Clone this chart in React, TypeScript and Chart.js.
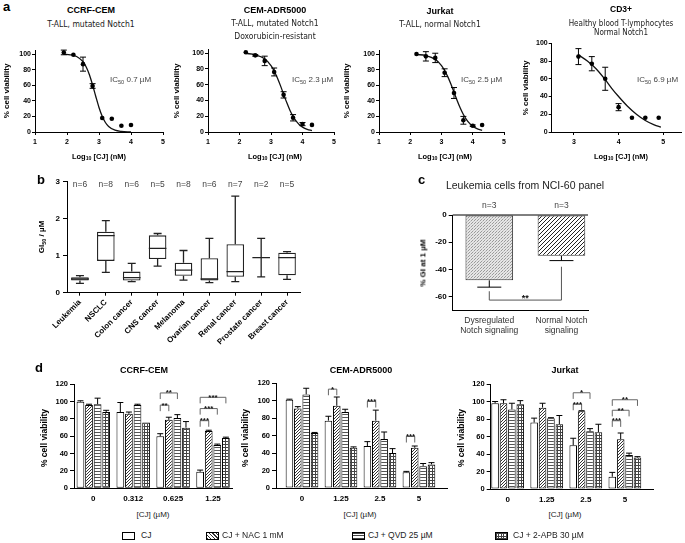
import React, { useEffect, useRef } from "react";
import { Chart, registerables } from "chart.js";

Chart.register(...registerables);

const FONT = "'Liberation Sans', Arial, Helvetica, sans-serif";
const NARROW = "'Liberation Sans Narrow', 'Arial Narrow', 'DejaVu Sans Condensed', 'Liberation Sans', Arial, sans-serif";
Chart.defaults.font.family = FONT;

// ---------------- Panel a: dose-response curves ----------------
const viabilityTicks = [0, 20, 40, 60, 80, 100];
const logTicks = [1, 2, 3, 4, 5];
const cd3LogTicks = [3, 4, 5];

const ccrfLog = [1.9, 2.2, 2.5, 2.8, 3.1, 3.4, 3.7, 4.0];
const ccrfViab = [102, 99, 87, 59, 18, 17, 8, 9];
const ccrfSem = [3, 0, 9, 3, 0, 0, 0, 0];
const ccrfFitLog = [1.9, 2.1, 2.3, 2.5, 2.6, 2.7, 2.8, 2.9, 3.0, 3.1, 3.2, 3.3, 3.5, 3.7, 4.0];
const ccrfFitViab = [99.7, 99, 96.8, 90.2, 83.4, 73.5, 60.3, 45.5, 31.5, 20.2, 12.2, 7.1, 2.3, 0.7, 0.1];

const adrLog = [2.2, 2.5, 2.8, 3.1, 3.4, 3.7, 4.0, 4.3];
const adrViab = [101, 97, 90, 76, 47, 18, 10, 9];
const adrSem = [0, 1, 6, 5, 4, 4, 2, 0];
const adrFitLog = [2.2, 2.5, 2.8, 3.0, 3.1, 3.2, 3.3, 3.4, 3.5, 3.6, 3.7, 3.8, 3.9, 4.0, 4.15, 4.3];
const adrFitViab = [99.4, 97.9, 92.7, 84, 77.3, 68.7, 58.7, 47.8, 37.2, 27.6, 19.8, 13.7, 9.3, 6.2, 3.3, 1.8];

const jurLog = [2.2, 2.5, 2.8, 3.1, 3.4, 3.7, 4.0, 4.3];
const jurViab = [100, 97, 95, 76, 50, 15, 8, 9];
const jurSem = [0, 6, 6, 5, 7, 5, 1, 0];
const jurFitLog = [2.2, 2.5, 2.8, 3.0, 3.1, 3.2, 3.3, 3.4, 3.5, 3.6, 3.7, 3.8, 3.9, 4.0, 4.15, 4.3];
const jurFitViab = [99.4, 98, 93.1, 85.2, 78.9, 71, 61.5, 51, 40.5, 30.8, 22.5, 16, 11, 7.5, 4.1, 2.2];

const cd3Log = [3.1, 3.4, 3.7, 4.0, 4.3, 4.6, 4.9];
const cd3Viab = [85, 77, 60, 28, 16, 16, 16];
const cd3Sem = [9, 8, 13, 4, 0, 0, 0];
const cd3FitLog = [3.1, 3.3, 3.5, 3.7, 3.85, 4.0, 4.2, 4.4, 4.6, 4.8, 4.95];
const cd3FitViab = [87, 80, 71, 59, 49, 40, 29, 20, 13, 8, 5.5];

// ---------------- Panel b: GI50 box plots ----------------
const giCategories = ["Leukemia", "NSCLC", "Colon cancer", "CNS cancer", "Melanoma", "Ovarian cancer", "Renal cancer", "Prostate cancer", "Breast cancer"];
const giN = ["n=6", "n=8", "n=6", "n=5", "n=8", "n=6", "n=7", "n=2", "n=5"];
const giMin = [0.25, 0.55, 0.3, 0.72, 0.34, 0.27, 0.3, 0.43, 0.36];
const giQ1 = [0.33, 0.86, 0.33, 0.91, 0.46, 0.33, 0.43, 0.95, 0.47];
const giMedian = [0.37, 1.54, 0.41, 1.2, 0.61, 0.37, 0.57, 0.95, 0.95];
const giQ3 = [0.42, 1.65, 0.57, 1.55, 0.81, 0.93, 1.31, 0.95, 1.08];
const giMax = [0.46, 1.95, 0.79, 1.6, 1.14, 1.47, 2.61, 1.47, 1.11];
const giTicks = [0, 1, 2, 3];

// ---------------- Panel c: leukemia %GI ----------------
const notchCategories = [["Dysregulated", "Notch signaling"], ["Normal Notch", "signaling"]];
const notchGI = [-48, -30];
const notchSem = [5, 3.5];
const notchN = ["n=3", "n=3"];
const notchTicks = [0, -20, -40, -60];
const notchSigLevel = -62.5;
const notchSigLegEnd = [-56, -38];
const notchSigStars = "**";

// ---------------- Panel d: viability with inhibitors ----------------
const dTicks = [0, 20, 40, 60, 80, 100, 120];
const treatmentLabels = ["CJ", "CJ + NAC 1 mM", "CJ + QVD 25 \u00b5M", "CJ + 2-APB 30 \u00b5M"];

const dCcrfConc = ["0", "0.312", "0.625", "1.25"];
const dCcrfCJ = [100, 88, 60, 19];
const dCcrfNAC = [96, 86, 79, 66];
const dCcrfQVD = [97, 96, 81, 50];
const dCcrfAPB = [88, 76, 70, 58];
const dCcrfCJErr = [1, 11, 3, 2];
const dCcrfNACErr = [1, 2, 3, 1];
const dCcrfQVDErr = [7, 1, 4, 1];
const dCcrfAPBErr = [2, 0, 7, 1];
const dCcrfSigGroup = [2, 2, 3, 3, 3];
const dCcrfSigVs = [1, 2, 1, 2, 3];
const dCcrfSigLevel = [96, 110, 78, 92, 105];
const dCcrfSigStars = ["**", "**", "***", "***", "***"];

const dAdrConc = ["0", "1.25", "2.5", "5"];
const dAdrCJ = [101, 77, 48, 18];
const dAdrNAC = [91, 94, 77, 46];
const dAdrQVD = [107, 87, 56, 25];
const dAdrAPB = [63, 46, 40, 27];
const dAdrCJErr = [0.5, 5, 5, 1];
const dAdrNACErr = [2, 10, 12, 2];
const dAdrQVDErr = [7, 3, 8, 3];
const dAdrAPBErr = [0.5, 1, 5, 2];
const dAdrSigGroup = [1, 2, 3];
const dAdrSigVs = [1, 1, 1];
const dAdrSigLevel = [113, 99, 59];
const dAdrSigStars = ["*", "***", "***"];

const dJurConc = ["0", "1.25", "2.5", "5"];
const dJurCJ = [98, 76, 50, 14];
const dJurNAC = [98, 93, 89, 57];
const dJurQVD = [91, 81, 66, 39];
const dJurAPB = [97, 74, 65, 36];
const dJurCJErr = [2, 5, 8, 5];
const dJurNACErr = [4, 5, 0.5, 7];
const dJurQVDErr = [7, 0.5, 3, 2];
const dJurAPBErr = [4, 10, 9, 1];
const dJurSigGroup = [2, 2, 3, 3, 3];
const dJurSigVs = [1, 2, 1, 2, 3];
const dJurSigLevel = [97, 110, 78, 90, 102];
const dJurSigStars = ["***", "*", "***", "**", "**"];

// ---------------- helpers ----------------
type Box = { x: number; y: number; w: number; h: number };
type Area = { l: number; r: number; t: number; b: number };

function geom(box: Box, a: Area) {
  return {
    padding: { top: a.t - box.y, right: box.x + box.w - a.r, left: 0, bottom: 0 },
    yWidth: a.l - box.x,
    xHeight: box.y + box.h - a.b,
  };
}

function tile(w: number, h: number, draw: (c: CanvasRenderingContext2D) => void) {
  const cv = document.createElement("canvas");
  cv.width = w;
  cv.height = h;
  const c = cv.getContext("2d")!;
  c.fillStyle = "#fff";
  c.fillRect(0, 0, w, h);
  draw(c);
  return c.createPattern(cv, "repeat");
}

function makePatterns() {
  const nac = tile(3, 3, (c) => {
    c.fillStyle = "#333";
    for (let i = 0; i < 3; i++) c.fillRect(i, 2 - i, 1, 1);
  });
  const qvd = tile(3, 3, (c) => {
    c.fillStyle = "#555";
    c.fillRect(0, 0, 3, 1);
  });
  const apb = tile(3, 3, (c) => {
    c.fillStyle = "#444";
    c.fillRect(0, 0, 3, 1);
    c.fillRect(0, 0, 1, 3);
  });
  const stipple = tile(3, 3, (c) => {
    c.fillStyle = "#e6e6e6";
    c.fillRect(0, 0, 3, 3);
    c.fillStyle = "#9a9a9a";
    c.fillRect(0, 0, 1, 1);
    c.fillRect(2, 1, 1, 1);
    c.fillStyle = "#c4c4c4";
    c.fillRect(1, 2, 1, 1);
  });
  const hatch = tile(4, 4, (c) => {
    c.fillStyle = "#222";
    for (let i = 0; i < 4; i++) c.fillRect(i, 3 - i, 1, 1);
  });
  return { nac, qvd, apb, stipple, hatch };
}

function yAxis(min: number, max: number, ticks: number[], width: number, size: number, tickLen: number, pad: number) {
  return {
    type: "linear",
    position: "left",
    min,
    max,
    offset: false,
    afterBuildTicks: (s: any) => {
      s.ticks = ticks.map((v) => ({ value: v }));
    },
    afterFit: (s: any) => {
      s.width = width;
    },
    grid: { display: true, drawOnChartArea: false, drawTicks: true, tickLength: tickLen, color: "#000", lineWidth: 1 },
    border: { display: true, color: "#000", width: 1 },
    ticks: { font: { family: FONT, size, weight: "bold" }, color: "#000", padding: pad, autoSkip: false },
  };
}

function xLinearAxis(min: number, max: number, ticks: number[], height: number, size: number, tickLen: number, pad: number, labels?: any[], bold = true) {
  return {
    type: "linear",
    position: "bottom",
    min,
    max,
    offset: false,
    afterBuildTicks: (s: any) => {
      s.ticks = ticks.map((v) => ({ value: v }));
    },
    afterFit: (s: any) => {
      s.height = height;
    },
    grid: { display: tickLen > 0, offset: false, drawOnChartArea: false, drawTicks: tickLen > 0, tickLength: tickLen, color: "#000", lineWidth: 1 },
    border: { display: true, color: "#000", width: 1 },
    ticks: {
      font: { family: FONT, size, weight: bold ? "bold" : "normal" },
      color: bold ? "#000" : "#333",
      padding: pad,
      autoSkip: false,
      minRotation: 0,
      maxRotation: 0,
      callback: (v: number) => (labels ? labels[Math.round(v)] : String(v)),
    },
  };
}

function scatterErrorPlugin(xs: number[], ys: number[], es: number[]) {
  return {
    id: "semBars",
    afterDatasetsDraw(chart: any) {
      const sx = chart.scales.x;
      const sy = chart.scales.y;
      const ctx = chart.ctx;
      ctx.save();
      ctx.strokeStyle = "#000";
      ctx.lineWidth = 1;
      xs.forEach((xv, i) => {
        if (!es[i]) return;
        const X = sx.getPixelForValue(xv);
        const y1 = sy.getPixelForValue(ys[i] + es[i]);
        const y2 = sy.getPixelForValue(ys[i] - es[i]);
        ctx.beginPath();
        ctx.moveTo(X, y1);
        ctx.lineTo(X, y2);
        ctx.moveTo(X - 3, y1);
        ctx.lineTo(X + 3, y1);
        ctx.moveTo(X - 3, y2);
        ctx.lineTo(X + 3, y2);
        ctx.stroke();
      });
      ctx.restore();
    },
  };
}

function doseConfig(px: number[], py: number[], pe: number[], fx: number[], fy: number[], xMin: number, xMax: number, xTicks: number[], yMax: number, box: Box, area: Area) {
  const g = geom(box, area);
  return {
    type: "scatter",
    data: {
      datasets: [
        {
          data: fx.map((x, i) => ({ x, y: fy[i] })),
          showLine: true,
          borderColor: "#111",
          borderWidth: 1.3,
          pointRadius: 0,
          cubicInterpolationMode: "monotone",
          order: 2,
        },
        {
          data: px.map((x, i) => ({ x, y: py[i] })),
          pointRadius: 2.3,
          pointBackgroundColor: "#000",
          pointBorderColor: "#000",
          pointBorderWidth: 0,
          order: 1,
        },
      ],
    },
    options: {
      animation: false,
      responsive: false,
      events: [],
      layout: { padding: g.padding },
      plugins: { legend: { display: false }, tooltip: { enabled: false } },
      scales: {
        x: xLinearAxis(xMin, xMax, xTicks, g.xHeight, 7, 3, 3),
        y: yAxis(0, yMax, viabilityTicks, g.yWidth, 7, 3, 1),
      },
    },
    plugins: [scatterErrorPlugin(px, py, pe)],
  };
}

function boxConfig(box: Box, area: Area) {
  const g = geom(box, area);
  const whiskers = {
    id: "whiskers",
    afterDatasetsDraw(chart: any) {
      const sy = chart.scales.y;
      const ctx = chart.ctx;
      const meta = chart.getDatasetMeta(0);
      ctx.save();
      ctx.strokeStyle = "#222";
      ctx.lineWidth = 1.3;
      meta.data.forEach((el: any, i: number) => {
        const x = el.x;
        const hw = el.width / 2;
        const cap = 4;
        const pMin = sy.getPixelForValue(giMin[i]);
        const pQ1 = sy.getPixelForValue(giQ1[i]);
        const pMed = sy.getPixelForValue(giMedian[i]);
        const pQ3 = sy.getPixelForValue(giQ3[i]);
        const pMax = sy.getPixelForValue(giMax[i]);
        ctx.beginPath();
        ctx.moveTo(x, pQ3);
        ctx.lineTo(x, pMax);
        ctx.moveTo(x - cap, pMax);
        ctx.lineTo(x + cap, pMax);
        ctx.moveTo(x, pQ1);
        ctx.lineTo(x, pMin);
        ctx.moveTo(x - cap, pMin);
        ctx.lineTo(x + cap, pMin);
        ctx.moveTo(x - hw, pMed);
        ctx.lineTo(x + hw, pMed);
        ctx.stroke();
      });
      ctx.fillStyle = "#444";
      ctx.font = `8.5px ${FONT}`;
      ctx.textAlign = "center";
      ctx.textBaseline = "middle";
      meta.data.forEach((el: any, i: number) => {
        ctx.fillText(giN[i], el.x, chart.chartArea.top + 3);
      });
      ctx.restore();
    },
  };
  return {
    type: "bar",
    data: {
      labels: giCategories,
      datasets: [
        {
          data: giQ1.map((q, i) => [q, giQ3[i]]),
          backgroundColor: "#fff",
          borderColor: "#222",
          borderWidth: 1.3,
          borderSkipped: false,
          categoryPercentage: 1,
          barPercentage: 0.68,
        },
      ],
    },
    options: {
      animation: false,
      responsive: false,
      events: [],
      layout: { padding: g.padding },
      plugins: { legend: { display: false }, tooltip: { enabled: false } },
      scales: {
        x: {
          type: "category",
          offset: true,
          afterFit: (s: any) => {
            s.height = g.xHeight;
          },
          grid: { display: true, drawOnChartArea: false, drawTicks: true, tickLength: 3, color: "#000", offset: false },
          border: { display: true, color: "#000", width: 1 },
          ticks: { font: { family: FONT, size: 8, weight: "bold" }, color: "#000", padding: 2, autoSkip: false, minRotation: 45, maxRotation: 45 },
        },
        y: yAxis(0, 3, giTicks, g.yWidth, 8, 4, 3),
      },
    },
    plugins: [whiskers],
  };
}

function notchConfig(box: Box, area: Area, pats: any) {
  const g = geom(box, area);
  const extras = {
    id: "notchExtras",
    afterDatasetsDraw(chart: any) {
      const sy = chart.scales.y;
      const ctx = chart.ctx;
      const meta = chart.getDatasetMeta(0);
      const ca = chart.chartArea;
      ctx.save();
      ctx.strokeStyle = "#000";
      ctx.lineWidth = 1;
      const y0 = sy.getPixelForValue(0);
      ctx.beginPath();
      ctx.moveTo(ca.left, y0);
      ctx.lineTo(ca.right, y0);
      ctx.stroke();
      meta.data.forEach((el: any, i: number) => {
        const yA = sy.getPixelForValue(notchGI[i]);
        const yB = sy.getPixelForValue(notchGI[i] - notchSem[i]);
        ctx.beginPath();
        ctx.moveTo(el.x, yA);
        ctx.lineTo(el.x, yB);
        ctx.moveTo(el.x - 12, yB);
        ctx.lineTo(el.x + 12, yB);
        ctx.stroke();
      });
      const x1 = meta.data[0].x;
      const x2 = meta.data[1].x;
      const yL = sy.getPixelForValue(notchSigLevel);
      ctx.strokeStyle = "#555";
      ctx.beginPath();
      ctx.moveTo(x1, sy.getPixelForValue(notchSigLegEnd[0]));
      ctx.lineTo(x1, yL);
      ctx.lineTo(x2, yL);
      ctx.lineTo(x2, sy.getPixelForValue(notchSigLegEnd[1]));
      ctx.stroke();
      ctx.fillStyle = "#111";
      ctx.font = `bold 9px ${FONT}`;
      ctx.textAlign = "center";
      ctx.textBaseline = "alphabetic";
      ctx.fillText(notchSigStars, (x1 + x2) / 2, yL + 1);
      ctx.fillStyle = "#444";
      ctx.font = `8.5px ${FONT}`;
      ctx.textBaseline = "middle";
      meta.data.forEach((el: any, i: number) => {
        ctx.fillText(notchN[i], el.x, ca.top - 9);
      });
      ctx.restore();
    },
  };
  return {
    type: "bar",
    data: {
      datasets: [
        {
          data: notchGI.map((y, i) => ({ x: i, y })),
          backgroundColor: [pats.stipple, pats.hatch],
          borderColor: "#333",
          borderWidth: 1,
          borderSkipped: false,
          categoryPercentage: 1,
          barPercentage: 0.66,
        },
      ],
    },
    options: {
      animation: false,
      responsive: false,
      events: [],
      layout: { padding: g.padding },
      plugins: { legend: { display: false }, tooltip: { enabled: false } },
      scales: {
        x: xLinearAxis(-0.507, 1.368, [0, 1], g.xHeight, 8.5, 0, 5, notchCategories, false),
        y: yAxis(-70, 0, notchTicks, g.yWidth, 8, 4, 2),
      },
    },
    plugins: [extras],
  };
}

function viabilityBarConfig(
  conc: string[],
  series: number[][],
  errs: number[][],
  sigGroup: number[],
  sigVs: number[],
  sigLevel: number[],
  sigStars: string[],
  xMin: number,
  xMax: number,
  box: Box,
  area: Area,
  pats: any
) {
  const g = geom(box, area);
  const fills = ["#fff", pats.nac, pats.qvd, pats.apb];
  const extras = {
    id: "barExtras",
    afterDatasetsDraw(chart: any) {
      const sy = chart.scales.y;
      const ctx = chart.ctx;
      ctx.save();
      ctx.strokeStyle = "#000";
      ctx.lineWidth = 1;
      series.forEach((vals, di) => {
        const meta = chart.getDatasetMeta(di);
        meta.data.forEach((el: any, i: number) => {
          const e = errs[di][i];
          if (!e) return;
          const yA = sy.getPixelForValue(vals[i]);
          const yB = sy.getPixelForValue(vals[i] + e);
          ctx.beginPath();
          ctx.moveTo(el.x, yA);
          ctx.lineTo(el.x, yB);
          ctx.moveTo(el.x - 3, yB);
          ctx.lineTo(el.x + 3, yB);
          ctx.stroke();
        });
      });
      ctx.strokeStyle = "#666";
      ctx.fillStyle = "#111";
      ctx.font = `bold 8px ${FONT}`;
      ctx.textAlign = "center";
      ctx.textBaseline = "alphabetic";
      sigGroup.forEach((grp, k) => {
        const x1 = chart.getDatasetMeta(0).data[grp].x;
        const x2 = chart.getDatasetMeta(sigVs[k]).data[grp].x;
        const yH = sy.getPixelForValue(sigLevel[k]);
        const yLow = sy.getPixelForValue(sigLevel[k] - 7);
        ctx.beginPath();
        ctx.moveTo(x1, yLow);
        ctx.lineTo(x1, yH);
        ctx.lineTo(x2, yH);
        ctx.lineTo(x2, yLow);
        ctx.stroke();
        ctx.fillText(sigStars[k], (x1 + x2) / 2, yH + 2.5);
      });
      ctx.restore();
    },
  };
  return {
    type: "bar",
    data: {
      datasets: series.map((vals, di) => ({
        label: treatmentLabels[di],
        data: vals.map((y, i) => ({ x: i, y })),
        backgroundColor: fills[di],
        borderColor: "#000",
        borderWidth: 1,
        borderSkipped: false,
        categoryPercentage: 0.86,
        barPercentage: 0.9,
      })),
    },
    options: {
      animation: false,
      responsive: false,
      events: [],
      layout: { padding: g.padding },
      plugins: { legend: { display: false }, tooltip: { enabled: false } },
      scales: {
        x: xLinearAxis(xMin, xMax, [0, 1, 2, 3], g.xHeight, 8, 0, 6, conc, true),
        y: yAxis(0, 120, dTicks, g.yWidth, 7.5, 4, 2),
      },
    },
    plugins: [extras],
  };
}

// ---------------- components ----------------
function ChartCanvas({ box, make }: { box: Box; make: () => any }) {
  const ref = useRef<HTMLCanvasElement>(null);
  useEffect(() => {
    const chart = new Chart(ref.current as HTMLCanvasElement, make());
    return () => chart.destroy();
  }, []);
  return (
    <canvas
      ref={ref}
      width={box.w}
      height={box.h}
      style={{ position: "absolute", left: box.x, top: box.y, width: box.w, height: box.h }}
    />
  );
}

function Label(props: { x: number; y: number; size: number; bold?: boolean; color?: string; rotate?: boolean; left?: boolean; family?: string; children: any }) {
  const { x, y, size, bold, color, rotate, left, family, children } = props;
  const transform = left ? "translate(0, -50%)" : `translate(-50%, -50%)${rotate ? " rotate(-90deg)" : ""}`;
  return (
    <div
      style={{
        position: "absolute",
        left: x,
        top: y,
        transform,
        fontFamily: family || FONT,
        fontSize: size,
        fontWeight: bold ? 700 : 400,
        color: color || "#000",
        whiteSpace: "nowrap",
        lineHeight: 1.15,
        textAlign: "center",
      }}
    >
      {children}
    </div>
  );
}

const Sub = ({ children }: { children: any }) => (
  <span style={{ fontSize: "70%", verticalAlign: "-0.3em", lineHeight: 0 }}>{children}</span>
);

function Swatch({ x, y, bg }: { x: number; y: number; bg: string }) {
  return (
    <div
      style={{
        position: "absolute",
        left: x,
        top: y,
        width: 11,
        height: 6,
        border: "1px solid #000",
        background: bg,
      }}
    />
  );
}

export default function App() {
  const patsRef = useRef<any>(null);
  if (!patsRef.current && typeof document !== "undefined") patsRef.current = makePatterns();
  const pats = patsRef.current;

  const a1Box = { x: 0, y: 38, w: 175, h: 117 };
  const a2Box = { x: 172, y: 38, w: 172, h: 117 };
  const a3Box = { x: 343, y: 38, w: 170, h: 117 };
  const a4Box = { x: 515, y: 30, w: 170, h: 125 };
  const bBox = { x: 20, y: 170, w: 300, h: 185 };
  const cBox = { x: 400, y: 198, w: 200, h: 145 };
  const d1Box = { x: 30, y: 372, w: 208, h: 133 };
  const d2Box = { x: 240, y: 372, w: 212, h: 133 };
  const d3Box = { x: 455, y: 372, w: 205, h: 133 };

  const viab = "% cell viability";

  return (
    <div style={{ position: "absolute", left: 0, top: 0, width: 685, height: 543, background: "#fff", overflow: "hidden" }}>
      <ChartCanvas box={a1Box} make={() => doseConfig(ccrfLog, ccrfViab, ccrfSem, ccrfFitLog, ccrfFitViab, 1, 5, logTicks, 105, a1Box, { l: 35, r: 163, t: 132 - 105 * 0.78, b: 132 })} />
      <ChartCanvas box={a2Box} make={() => doseConfig(adrLog, adrViab, adrSem, adrFitLog, adrFitViab, 1, 5, logTicks, 105, a2Box, { l: 208, r: 334, t: 132 - 105 * 0.79, b: 132 })} />
      <ChartCanvas box={a3Box} make={() => doseConfig(jurLog, jurViab, jurSem, jurFitLog, jurFitViab, 1, 5, logTicks, 105, a3Box, { l: 379, r: 504, t: 132 - 105 * 0.78, b: 132 })} />
      <ChartCanvas box={a4Box} make={() => doseConfig(cd3Log, cd3Viab, cd3Sem, cd3FitLog, cd3FitViab, 2.5, 5.4, cd3LogTicks, 100, a4Box, { l: 551.7, r: 681, t: 43.3, b: 132 })} />
      <ChartCanvas box={bBox} make={() => boxConfig(bBox, { l: 67, r: 300, t: 181.7, b: 292.7 })} />
      <ChartCanvas box={cBox} make={() => notchConfig(cBox, { l: 452.7, r: 588, t: 215, b: 310.3 }, pats)} />
      <ChartCanvas
        box={d1Box}
        make={() =>
          viabilityBarConfig(dCcrfConc, [dCcrfCJ, dCcrfNAC, dCcrfQVD, dCcrfAPB], [dCcrfCJErr, dCcrfNACErr, dCcrfQVDErr, dCcrfAPBErr], dCcrfSigGroup, dCcrfSigVs, dCcrfSigLevel, dCcrfSigStars, -0.484, 3.476, d1Box, { l: 74, r: 232, t: 384.3, b: 488.3 }, pats)
        }
      />
      <ChartCanvas
        box={d2Box}
        make={() =>
          viabilityBarConfig(dAdrConc, [dAdrCJ, dAdrNAC, dAdrQVD, dAdrAPB], [dAdrCJErr, dAdrNACErr, dAdrQVDErr, dAdrAPBErr], dAdrSigGroup, dAdrSigVs, dAdrSigLevel, dAdrSigStars, -0.667, 3.72, d2Box, { l: 276, r: 447, t: 383, b: 488 }, pats)
        }
      />
      <ChartCanvas
        box={d3Box}
        make={() =>
          viabilityBarConfig(dJurConc, [dJurCJ, dJurNAC, dJurQVD, dJurAPB], [dJurCJErr, dJurNACErr, dJurQVDErr, dJurAPBErr], dJurSigGroup, dJurSigVs, dJurSigLevel, dJurSigStars, -0.435, 3.72, d3Box, { l: 490.7, r: 653, t: 384, b: 489 }, pats)
        }
      />

      {/* panel letters */}
      <Label x={3} y={7} size={13} bold left>a</Label>
      <Label x={37} y={180} size={13} bold left>b</Label>
      <Label x={418} y={180} size={13} bold left>c</Label>
      <Label x={35} y={368} size={13} bold left>d</Label>

      {/* panel a titles */}
      <Label x={91} y={10} size={9} bold>CCRF-CEM</Label>
      <Label x={91} y={25} size={8.5} color="#222" family={NARROW}>T-ALL, mutated Notch1</Label>
      <Label x={275} y={10} size={9} bold>CEM-ADR5000</Label>
      <Label x={275} y={24} size={8.5} color="#222" family={NARROW}>T-ALL, mutated Notch1</Label>
      <Label x={275} y={37} size={8.5} color="#222" family={NARROW}>Doxorubicin-resistant</Label>
      <Label x={440} y={11} size={9} bold>Jurkat</Label>
      <Label x={440} y={25} size={8.5} color="#222" family={NARROW}>T-ALL, normal Notch1</Label>
      <Label x={621} y={10} size={8.5} bold>CD3+</Label>
      <Label x={621} y={24} size={8} color="#222" family={NARROW}>Healthy blood T-lymphocytes</Label>
      <Label x={621} y={33} size={8} color="#222" family={NARROW}>Normal Notch1</Label>

      {[7, 177, 347, 526].map((x, i) => (
        <Label key={"ay" + i} x={x} y={i === 3 ? 88 : 91} size={8} bold rotate>{viab}</Label>
      ))}
      {[99, 275, 445, 621].map((x, i) => (
        <Label key={"ax" + i} x={x} y={157} size={7.5} bold>
          Log<Sub>10</Sub> [CJ] (nM)
        </Label>
      ))}
      <Label x={110} y={80} size={8} color="#444" left>IC<Sub>50</Sub> 0.7 µM</Label>
      <Label x={292} y={80} size={8} color="#444" left>IC<Sub>50</Sub> 2.3 µM</Label>
      <Label x={461} y={80} size={8} color="#444" left>IC<Sub>50</Sub> 2.5 µM</Label>
      <Label x={637} y={80} size={8} color="#444" left>IC<Sub>50</Sub> 6.9 µM</Label>

      {/* panel b */}
      <Label x={42} y={237} size={8} bold rotate>
        GI<Sub>50</Sub> / µM
      </Label>

      {/* panel c */}
      <Label x={525} y={185} size={10.5} color="#222">Leukemia cells from NCI-60 panel</Label>
      <Label x={423} y={263} size={8} bold rotate>% GI at 1 µM</Label>

      {/* panel d */}
      <Label x={144} y={370} size={9} bold>CCRF-CEM</Label>
      <Label x={361} y={370} size={9} bold>CEM-ADR5000</Label>
      <Label x={565} y={370} size={9} bold>Jurkat</Label>
      {[45, 246, 462].map((x, i) => (
        <Label key={"dy" + i} x={x} y={438} size={8.5} bold rotate>{viab}</Label>
      ))}
      {[153, 360, 565].map((x, i) => (
        <Label key={"dx" + i} x={x} y={515} size={8} color="#222">[CJ] (µM)</Label>
      ))}

      {/* legend */}
      <Swatch x={122} y={532} bg="#fff" />
      <Label x={141} y={536} size={8.5} color="#222" left>{treatmentLabels[0]}</Label>
      <Swatch x={206} y={532} bg="repeating-linear-gradient(45deg, #333 0 1px, #fff 1px 2.5px)" />
      <Label x={222} y={536} size={8.5} color="#222" left>{treatmentLabels[1]}</Label>
      <Swatch x={352} y={532} bg="repeating-linear-gradient(0deg, #444 0 1px, #fff 1px 2.5px)" />
      <Label x={368} y={536} size={8.5} color="#222" left>{treatmentLabels[2]}</Label>
      <Swatch
        x={495}
        y={532}
        bg="repeating-linear-gradient(0deg, #444 0 1px, transparent 1px 2.5px), repeating-linear-gradient(90deg, #444 0 1px, #fff 1px 2.5px)"
      />
      <Label x={513} y={536} size={8.5} color="#222" left>{treatmentLabels[3]}</Label>
    </div>
  );
}
